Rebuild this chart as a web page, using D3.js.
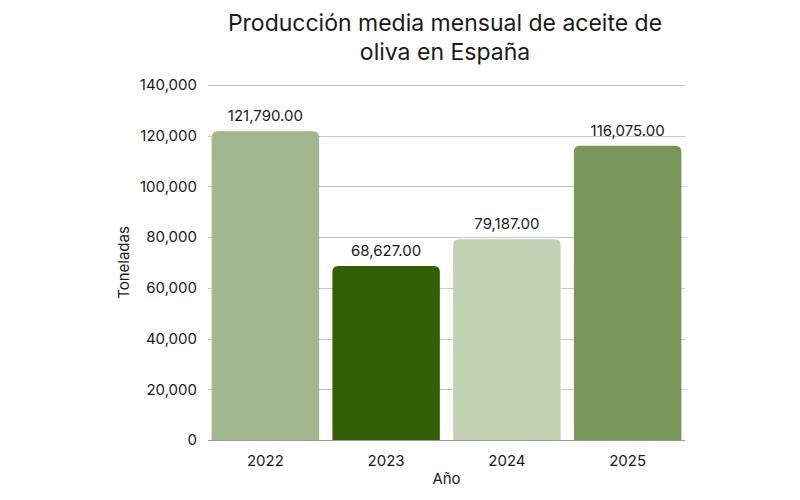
<!DOCTYPE html>
<html>
<head>
<meta charset="utf-8">
<script src="https://cdn.jsdelivr.net/npm/d3@7"></script>
<style>
  body { margin: 0; background: #fff; }
  text { font-family: Inter, "Noto Sans", sans-serif; fill: #1a1a1a; }
</style>
</head>
<body>
<svg id="chart" width="800" height="500"></svg>
<script>
"use strict";

var years = ["2022", "2023", "2024", "2025"];
var values = [121790, 68627, 79187, 116075];
var colors = ["#a2b78e", "#335f04", "#c3d1b3", "#76965a"];
var yTicks = [0, 20000, 40000, 60000, 80000, 100000, 120000, 140000];

var margin = { left: 208, right: 115, top: 85, bottom: 60 },
  width = 800,
  height = 500;

var svg = d3.select("#chart");

var x = d3.scaleBand()
  .domain(years)
  .range([margin.left, width - margin.right])
  .paddingInner(0.11)
  .paddingOuter(0.03);

var y = d3.scaleLinear()
  .domain([0, 140000])
  .range([height - margin.bottom, margin.top]);

var fmtTick = d3.format(",");
var fmtVal = d3.format(",.2f");

// gridlines
svg.append("g")
  .selectAll("line")
  .data(yTicks)
  .enter()
  .append("line")
  .attr("x1", margin.left)
  .attr("x2", width - margin.right)
  .attr("y1", function (d) { return Math.round(y(d)) + 0.5; })
  .attr("y2", function (d) { return Math.round(y(d)) + 0.5; })
  .attr("stroke", function (d) { return d === 0 ? "#999" : "#c8c8c8"; })
  .attr("stroke-width", 1);

// y tick labels
svg.append("g")
  .selectAll("text")
  .data(yTicks)
  .enter()
  .append("text")
  .attr("x", 197)
  .attr("y", function (d) { return y(d); })
  .attr("dy", "0.35em")
  .attr("text-anchor", "end")
  .style("font-size", "15px")
  .text(function (d) { return fmtTick(d); });

// bars with rounded tops
function barPath(d, i) {
  var x0 = x(years[i]), w = x.bandwidth(), y0 = y(d), y1 = y(0), r = 6;
  return "M" + x0 + "," + y1 +
    "V" + (y0 + r) +
    "Q" + x0 + "," + y0 + " " + (x0 + r) + "," + y0 +
    "H" + (x0 + w - r) +
    "Q" + (x0 + w) + "," + y0 + " " + (x0 + w) + "," + (y0 + r) +
    "V" + y1 + "Z";
}

svg.append("g")
  .selectAll("path")
  .data(values)
  .enter()
  .append("path")
  .attr("d", barPath)
  .attr("fill", function (d, i) { return colors[i]; });

// value labels
svg.append("g")
  .selectAll("text")
  .data(values)
  .enter()
  .append("text")
  .attr("x", function (d, i) { return x(years[i]) + x.bandwidth() / 2; })
  .attr("y", function (d) { return y(d) - 10; })
  .attr("text-anchor", "middle")
  .style("font-size", "15px")
  .text(function (d) { return fmtVal(d); });

// x labels
svg.append("g")
  .selectAll("text")
  .data(years)
  .enter()
  .append("text")
  .attr("x", function (d) { return x(d) + x.bandwidth() / 2; })
  .attr("y", 461)
  .attr("dy", "0.35em")
  .attr("text-anchor", "middle")
  .style("font-size", "15px")
  .text(function (d) { return d; });

// axis titles
svg.append("text")
  .attr("x", (margin.left + width - margin.right) / 2)
  .attr("y", 484)
  .attr("text-anchor", "middle")
  .style("font-size", "15px")
  .text("Año");

svg.append("text")
  .attr("transform", "translate(129," + ((margin.top + height - margin.bottom) / 2) + ") rotate(-90)")
  .attr("text-anchor", "middle")
  .style("font-size", "15px")
  .text("Toneladas");

// title
var title = svg.append("text")
  .attr("text-anchor", "middle")
  .style("font-size", "23px");

title.append("tspan")
  .attr("x", 445)
  .attr("y", 31)
  .text("Producción media mensual de aceite de");

title.append("tspan")
  .attr("x", 445)
  .attr("y", 60)
  .text("oliva en España");
</script>
</body>
</html>
